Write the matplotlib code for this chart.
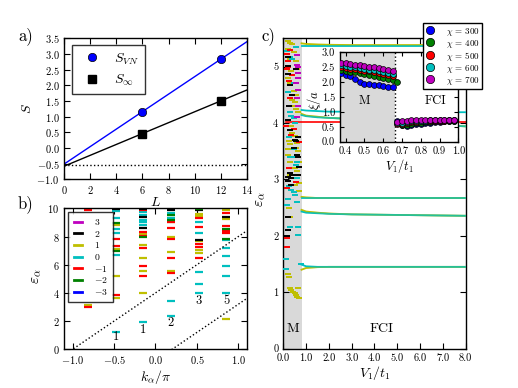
import numpy as np
import matplotlib
matplotlib.use('Agg')
import matplotlib.pyplot as plt
from matplotlib.lines import Line2D
from matplotlib.ticker import FormatStrFormatter, MultipleLocator

plt.rcParams.update({
    'font.family': 'cmr10',
    'mathtext.fontset': 'cm',
    'axes.formatter.use_mathtext': True,
    'font.size': 7.5,
    'xtick.direction': 'in', 'ytick.direction': 'in',
    'xtick.top': True, 'ytick.right': True,
    'xtick.major.size': 4, 'ytick.major.size': 4,
    'xtick.minor.visible': False, 'ytick.minor.visible': False,
    'axes.linewidth': 1.0,
    'axes.unicode_minus': True,
})

# ---------------- panel a data ----------------
L_vals = [6, 12]
S_vn = [1.16, 2.83]
S_inf = [0.46, 1.50]
gamma_line = -0.549

# ---------------- panel b data ----------------
b_sectors = ['3', '2', '1', '0', '-1', '-2', '-3']
b_colors = ['m', 'k', 'y', 'c', 'r', 'g', 'b']
b_kcols = [-0.813, -0.48, -0.147, 0.187, 0.52, 0.853]
q0_col = [0, 1, 1, 1, 1, 1, 1, 2, 2, 2, 2, 2, 2, 3, 3, 3, 3, 3, 3, 4, 4, 4, 4, 4, 5, 5, 5, 5, 5, 5]
q0_e = [9.98, 9.8, 9.29, 8.51, 8.23, 6.72, 1.25, 1.91, 8.8, 9.0, 9.2, 9.5, 9.75,
        9.7, 9.5, 9.3, 9.1, 3.45, 2.36, 9.0, 8.27, 5.51, 4.63, 3.97,
        7.78, 7.16, 6.62, 5.91, 5.2, 4.02]
q1_col = [0, 1, 1, 1, 1, 2, 2, 2, 2, 2, 3, 3, 3, 3, 4, 4, 4, 4, 4, 5, 5, 5]
q1_e = [3.12, 8.85, 7.1, 5.2, 3.66, 3.97, 5.56, 6.45, 7.4, 8.2,
        9.05, 7.95, 6.88, 5.54, 9.6, 9.45, 7.68, 7.04, 6.86, 9.85, 9.22, 2.13]
qm1_col = [0, 0, 1, 1, 1, 2, 2, 2, 2, 2, 2, 3, 3, 3, 3, 3, 4, 4, 4, 4, 4, 5, 5, 5, 5]
qm1_e = [2.98, 9.9, 7.85, 7.3, 3.83, 5.22, 5.91, 7.16, 8.06, 8.35, 9.9,
         9.0, 8.58, 7.85, 6.45, 5.44, 9.29, 8.7, 7.5, 7.23, 6.45, 9.7, 8.75, 8.4, 8.23]
q2_col = [1, 2, 2, 2, 3, 4, 4, 5]
q2_e = [9.93, 8.58, 9.4, 9.93, 9.87, 9.88, 7.75, 9.41]
qm2_col = [1, 1, 2, 3, 3, 4, 5, 5]
qm2_e = [8.94, 7.0, 7.95, 9.2, 9.55, 9.93, 8.5, 7.82]
b_counts_k = [-0.48, -0.147, 0.187, 0.52, 0.853]
b_counts_e = [0.9, 1.37, 1.84, 3.43, 3.43]
b_counts = ['1', '1', '2', '3', '5']

# ---------------- panel c data ----------------
m_region = 0.83
my_v = [0.2, 0.25, 0.3, 0.65, 0.35, 0.42, 0.5, 0.57, 0.62, 0.68, 0.25, 0.3, 0.2, 0.2, 0.3, 0.3,
        0.7, 0.3, 0.2, 0.3, 0.35, 0.2, 0.3, 0.45, 0.55, 0.62, 0.4, 0.5, 0.4, 0.5, 0.6, 0.2, 0.3, 0.4,
        0.45, 0.55, 0.65, 0.35, 0.55, 0.65, 0.5, 0.6, 0.7, 0.5, 0.25, 0.55, 0.45, 0.6, 0.7]
my_e = [1.32, 1.27, 1.07, 1.07, 1.04, 1.01, 0.98, 0.95, 0.92, 0.90, 3.68, 3.62, 3.53, 3.44, 3.30, 3.08,
        2.94, 2.34, 5.31, 5.13, 4.92, 4.80, 4.71, 4.56, 4.50, 4.44, 4.41, 4.38, 3.82, 3.76, 3.64, 5.45, 5.42, 5.40,
        4.30, 4.25, 4.20, 3.95, 3.55, 3.50, 3.20, 3.15, 2.80, 2.90, 2.50, 5.10, 5.25, 4.95, 3.30]
mc_v = [0.12, 0.12, 0.78, 0.45, 0.45, 0.62, 0.62, 0.35, 0.45, 0.5, 0.2, 0.15, 0.3, 0.65, 0.65,
        0.15, 0.3, 0.4, 0.35, 0.45, 0.3, 0.5, 0.25, 0.55, 0.25, 0.6, 0.2, 0.45, 0.55, 0.3]
mc_e = [1.59, 1.41, 1.50, 3.53, 3.39, 3.30, 3.03, 2.82, 2.78, 2.73, 2.66, 2.55, 2.16, 2.16, 2.01,
        5.27, 5.16, 5.13, 4.12, 4.09, 4.20, 4.00, 3.75, 3.25, 2.88, 2.60, 4.55, 4.70, 5.35, 3.40]
mr_v = [0.15, 0.7, 0.15, 0.15, 0.15, 0.2, 0.15, 0.25, 0.12, 0.35, 0.2, 0.3, 0.45, 0.25, 0.55, 0.3, 0.4]
mr_e = [1.81, 3.66, 2.84, 1.97, 5.22, 5.10, 4.95, 4.74, 3.94, 3.79, 5.00, 4.45, 3.90, 3.20, 2.95, 5.30, 4.85]
mk_v = [0.55, 0.6, 0.65, 0.3, 0.4, 0.2, 0.65, 0.35, 0.2, 0.2, 0.2, 0.15,
        0.2, 0.2, 0.2, 0.3, 0.2, 0.3, 0.5, 0.4, 0.45, 0.35, 0.55, 0.25, 0.65, 0.7]
mk_e = [3.68, 3.44, 3.39, 3.12, 3.08, 3.05, 3.08, 3.03, 2.97, 2.34, 2.11, 1.99,
        5.16, 5.01, 4.86, 4.68, 4.06, 3.88, 3.70, 4.50, 3.55, 2.90, 4.95, 4.30, 3.75, 3.22]
mm_v = [0.6, 0.65, 0.65, 0.65, 0.65, 0.6, 0.6, 0.65, 0.55, 0.6]
mm_e = [5.03, 5.00, 4.89, 4.80, 4.59, 4.44, 5.20, 4.30, 4.70, 4.10]

fci_v = [0.8, 1.0, 1.5, 2.0, 3.0, 4.0, 5.0, 6.0, 7.0, 8.0]
lev1_c = [1.49, 1.46, 1.45, 1.45, 1.45, 1.45, 1.45, 1.45, 1.45, 1.45]
lev1_y = [1.40, 1.43, 1.445, 1.45, 1.45, 1.45, 1.45, 1.45, 1.45, 1.45]
lev2_c = [2.43, 2.41, 2.40, 2.39, 2.38, 2.375, 2.37, 2.365, 2.36, 2.355]
lev2_y = [2.46, 2.43, 2.41, 2.395, 2.38, 2.375, 2.37, 2.365, 2.36, 2.355]
lev3_c = [2.67, 2.67, 2.67, 2.67, 2.67, 2.67, 2.67, 2.67, 2.67, 2.67]
lev3_y = [2.69, 2.68, 2.67, 2.67, 2.67, 2.67, 2.67, 2.67, 2.67, 2.67]
lev4_c = [4.23, 4.22, 4.21, 4.20, 4.20, 4.20, 4.19, 4.19, 4.19, 4.19]
lev5_c = [4.14, 4.12, 4.10, 4.09, 4.07, 4.04, 4.01, 3.98, 3.96, 3.94]
lev5_y = [4.16, 4.13, 4.11, 4.09, 4.07, 4.04, 4.01, 3.98, 3.96, 3.94]
lev6_c = [5.37, 5.37, 5.37, 5.37, 5.37, 5.37, 5.37, 5.37, 5.37, 5.37]
lev6_y = [5.41, 5.40, 5.39, 5.385, 5.38, 5.38, 5.38, 5.38, 5.38, 5.38]
red_level = 4.02

chi_labels = [300, 400, 500, 600, 700]
chi_colors = ['b', 'g', 'r', 'c', 'm']
v_m = [0.375, 0.4, 0.425, 0.45, 0.475, 0.5, 0.525, 0.55, 0.575, 0.6, 0.625, 0.65]
v_f = [0.675, 0.7, 0.725, 0.75, 0.775, 0.8, 0.825, 0.85, 0.875, 0.9, 0.925, 0.95, 0.975]
xi_m_300 = [2.29, 2.25, 2.20, 2.12, 2.01, 1.95, 1.93, 1.91, 1.89, 1.87, 1.85, 1.82]
xi_m_400 = [2.41, 2.38, 2.35, 2.33, 2.30, 2.27, 2.24, 2.21, 2.18, 2.14, 2.10, 2.07, 2.02]
xi_m_500 = [2.50, 2.48, 2.45, 2.43, 2.41, 2.38, 2.36, 2.33, 2.31, 2.28, 2.25, 2.21]
xi_m_600 = [2.56, 2.53, 2.51, 2.49, 2.47, 2.44, 2.42, 2.40, 2.37, 2.35, 2.32, 2.28]
xi_m_700 = [2.65, 2.63, 2.60, 2.58, 2.56, 2.54, 2.51, 2.49, 2.46, 2.44, 2.41, 2.37]
xi_f_300 = [0.70, 0.55, 0.53, 0.55, 0.58, 0.60, 0.62, 0.64, 0.66, 0.67, 0.68, 0.69, 0.70]
xi_f_400 = [0.57, 0.57, 0.60, 0.62, 0.64, 0.66, 0.67, 0.68, 0.69, 0.70, 0.70, 0.71]
xi_f_500 = [0.60, 0.60, 0.62, 0.65, 0.67, 0.68, 0.69, 0.70, 0.70, 0.71, 0.71, 0.72, 0.72]
xi_f_600 = [0.63, 0.64, 0.66, 0.69, 0.70, 0.71, 0.71, 0.72, 0.72, 0.72, 0.72, 0.73, 0.73]
xi_f_700 = [0.66, 0.68, 0.71, 0.73, 0.74, 0.74, 0.74, 0.74, 0.74, 0.74, 0.74, 0.74, 0.74]
transition = 0.663

fig = plt.figure(figsize=(5.18, 3.88), dpi=100)
fig.patch.set_facecolor('white')

# ---------------- panel a ----------------
ax_a = fig.add_axes([0.1241, 0.5379, 0.3521, 0.3634])
xl = np.array([0, 14])
p1 = np.polyfit(L_vals, S_vn, 1)
p2 = np.polyfit(L_vals, S_inf, 1)
ax_a.plot(xl, np.polyval(p1, xl), color='b', lw=1)
ax_a.plot(xl, np.polyval(p2, xl), color='k', lw=1)
ax_a.axhline(gamma_line, color='k', ls=':', lw=1)
ax_a.plot(L_vals, S_vn, 'o', color='b', ms=6, mec='k', mew=0.5, label=r'$S_{VN}$')
ax_a.plot(L_vals, S_inf, 's', color='k', ms=5.5, label=r'$S_\infty$')
ax_a.set_xlim(0, 14)
ax_a.set_ylim(-1.0, 3.5)
ax_a.xaxis.set_major_locator(MultipleLocator(2))
ax_a.yaxis.set_major_locator(MultipleLocator(0.5))
ax_a.yaxis.set_major_formatter(FormatStrFormatter(r'$%.1f$'))
ax_a.set_xlabel(r'$L$', fontsize=10, labelpad=0)
ax_a.set_ylabel(r'$S$', fontsize=10)
ax_a.yaxis.set_label_coords(-0.165, 0.5)
leg = ax_a.legend(loc='upper left', numpoints=1, fontsize=10, borderaxespad=0,
                  bbox_to_anchor=(7.4 / 182.4, 1 - 6.7 / 141), fancybox=False,
                  handletextpad=0.6, borderpad=0.45, labelspacing=0.45)
leg.get_frame().set_edgecolor('k')
leg.get_frame().set_linewidth(1)

# ---------------- panel b ----------------
ax_b = fig.add_axes([0.1241, 0.0997, 0.3521, 0.3634])
dash_kw = dict(marker='_', ms=6, mew=1.6, ls='none')
ax_b.plot([b_kcols[i] for i in q0_col], q0_e, color='c', **dash_kw)
ax_b.plot([b_kcols[i] for i in q1_col], q1_e, color='y', **dash_kw)
ax_b.plot([b_kcols[i] for i in qm1_col], qm1_e, color='r', **dash_kw)
ax_b.plot([b_kcols[i] for i in q2_col], q2_e, color='k', **dash_kw)
ax_b.plot([b_kcols[i] for i in qm2_col], qm2_e, color='g', **dash_kw)
kk = np.array([-1.1, 1.1])
ax_b.plot(kk, 4.0 * (kk + 1.0), 'k:', lw=1)
ax_b.plot(kk, 4.0 * (kk - 0.2), 'k:', lw=1)
for k, e, s in zip(b_counts_k, b_counts_e, b_counts):
    ax_b.text(k, e, s, ha='center', va='center', fontsize=9)
ax_b.set_xlim(-1.1, 1.1)
ax_b.set_ylim(0, 10)
ax_b.xaxis.set_major_locator(MultipleLocator(0.5))
ax_b.yaxis.set_major_locator(MultipleLocator(2))
ax_b.xaxis.set_major_formatter(FormatStrFormatter(r'$%.1f$'))
ax_b.yaxis.set_major_formatter(FormatStrFormatter(r'$%d$'))
ax_b.set_xlabel(r'$k_\alpha/\pi$', fontsize=10, labelpad=1)
ax_b.set_ylabel(r'$\varepsilon_\alpha$', fontsize=11)
ax_b.yaxis.set_label_coords(-0.117, 0.52)
handles = [Line2D([], [], color=c, lw=2) for c in b_colors]
labels = ['$' + s + '$' for s in b_sectors]
legb = ax_b.legend(handles, labels, loc='upper left', fontsize=7, borderaxespad=0,
                   bbox_to_anchor=(4 / 182.4, 1 - 3.4 / 141), fancybox=False,
                   handlelength=0.9, handletextpad=1.2, labelspacing=0.17, borderpad=0.55)
legb.get_frame().set_edgecolor('k')
legb.get_frame().set_linewidth(1)

# ---------------- panel c ----------------
ax_c = fig.add_axes([0.5469, 0.1013, 0.3521, 0.8000])
ax_c.axvspan(0, m_region, color='0.85', lw=0, zorder=0)
ax_c.plot([0.1, 8.0], [red_level, red_level], color='r', lw=1.2, zorder=2)
for cl, yl in [(lev1_c, lev1_y), (lev2_c, lev2_y), (lev3_c, lev3_y), (lev5_c, lev5_y), (lev6_c, lev6_y)]:
    ax_c.plot(fci_v, yl, color='y', lw=1.3, zorder=2)
    ax_c.plot(fci_v, cl, color='c', lw=1.3, zorder=3)
    ax_c.plot(fci_v, yl, color='y', lw=1.3, alpha=0.2, zorder=4)
ax_c.plot(fci_v, lev4_c, color='c', lw=1.3, zorder=3)
mkw = dict(marker='_', ms=4.5, mew=1.4, ls='none', zorder=3)
ax_c.plot(my_v, my_e, color='y', **mkw)
ax_c.plot(mc_v, mc_e, color='c', **mkw)
ax_c.plot(mr_v, mr_e, color='r', **mkw)
ax_c.plot(mk_v, mk_e, color='k', **mkw)
ax_c.plot(mm_v, mm_e, color='m', **mkw)
ax_c.text(0.4, 0.35, 'M', ha='center', va='center', fontsize=10)
ax_c.text(4.3, 0.35, 'FCI', ha='center', va='center', fontsize=10)
ax_c.set_xlim(0, 8)
ax_c.set_ylim(0, 5.5)
ax_c.xaxis.set_major_locator(MultipleLocator(1))
ax_c.yaxis.set_major_locator(MultipleLocator(1))
ax_c.xaxis.set_major_formatter(FormatStrFormatter('%.1f'))
ax_c.yaxis.set_major_formatter(FormatStrFormatter('%d'))
ax_c.set_xlabel(r'$V_1/t_1$', fontsize=10, labelpad=1)
ax_c.set_ylabel(r'$\varepsilon_\alpha$', fontsize=11)
ax_c.yaxis.set_label_coords(-0.09, 0.48)

# inset
ax_i = fig.add_axes([0.6564, 0.6348, 0.2284, 0.2304])
ax_i.axvspan(0.3, transition, color='0.85', lw=0, zorder=0)
ax_i.axvline(transition, color='k', ls=':', lw=1)
xi_m = [xi_m_300, xi_m_400, xi_m_500, xi_m_600, xi_m_700]
xi_f = [xi_f_300, xi_f_400, xi_f_500, xi_f_600, xi_f_700]
handles_c = []
for chi, col, ym, yf in zip(chi_labels, chi_colors, xi_m, xi_f):
    vm = v_m[:len(ym)] if len(ym) <= len(v_m) else v_m + v_f[:len(ym) - len(v_m)]
    vf = v_f[-len(yf):]
    ax_i.plot(vm, ym, 'o', color=col, ms=4.2, mec='k', mew=0.5, zorder=3)
    ax_i.plot(vf, yf, 'o', color=col, ms=4.2, mec='k', mew=0.5, zorder=3)
    handles_c.append(Line2D([], [], marker='o', ls='none', color=col, ms=6, mec='k', mew=0.5))
ax_i.text(0.5, 1.38, 'M', ha='center', va='center', fontsize=9)
ax_i.text(0.88, 1.38, 'FCI', ha='center', va='center', fontsize=9)
ax_i.set_xlim(0.37, 1.0)
ax_i.set_ylim(0, 3.0)
ax_i.xaxis.set_major_locator(MultipleLocator(0.1))
ax_i.yaxis.set_major_locator(MultipleLocator(0.5))
ax_i.xaxis.set_major_formatter(FormatStrFormatter('%.1f'))
ax_i.yaxis.set_major_formatter(FormatStrFormatter('%.1f'))
ax_i.tick_params(labelsize=7.5, length=3)
ax_i.set_xlabel(r'$V_1/t_1$', fontsize=9, labelpad=1)
ax_i.set_ylabel(r'$\xi/a$', fontsize=9)
ax_i.yaxis.set_label_coords(-0.144, 0.47)

legc = fig.legend(handles_c, [r'$\chi$ = %d' % c for c in chi_labels], loc='upper right',
                  bbox_to_anchor=(481.7 / 518, 1 - 23.3 / 388), fontsize=6.5, fancybox=False,
                  borderaxespad=0, handletextpad=1.2, labelspacing=0.0, borderpad=0.25,
                  handlelength=1.0)
legc.get_frame().set_edgecolor('k')
legc.get_frame().set_linewidth(1)
legc.get_frame().set_alpha(1)

fig.text(18 / 518, 1 - 27 / 388, 'a)', fontsize=12, va='top', ha='left')
fig.text(18 / 518, 1 - 195 / 388, 'b)', fontsize=12, va='top', ha='left')
fig.text(262 / 518, 1 - 27 / 388, 'c)', fontsize=12, va='top', ha='left')

fig.savefig('out.png', dpi=100, facecolor='white')
